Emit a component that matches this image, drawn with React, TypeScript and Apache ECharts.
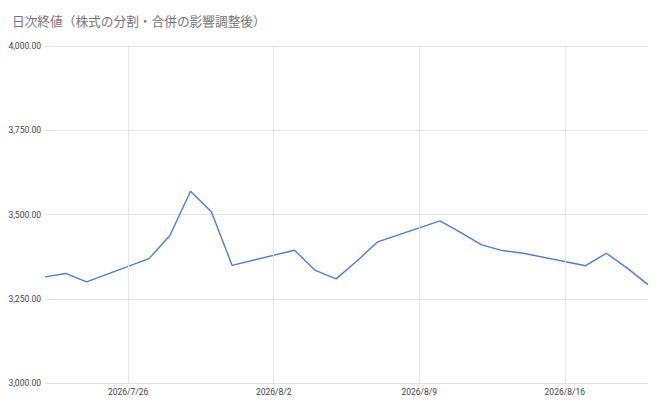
import React, { useEffect, useRef } from "react";
import * as echarts from "echarts";

const titleText = "日次終値（株式の分割・合併の影響調整後）";
const dates = [
  "2026-07-22", "2026-07-23", "2026-07-24", "2026-07-27", "2026-07-28", "2026-07-29",
  "2026-07-30", "2026-07-31", "2026-08-03", "2026-08-04", "2026-08-05", "2026-08-06",
  "2026-08-07", "2026-08-10", "2026-08-11", "2026-08-12", "2026-08-13", "2026-08-14",
  "2026-08-17", "2026-08-18", "2026-08-19", "2026-08-20",
];
const closes = [
  3315, 3325, 3300, 3369, 3437, 3569,
  3508, 3349, 3394, 3334, 3309, 3362,
  3419, 3481, 3446, 3410, 3393, 3385,
  3348, 3385, 3341, 3292,
];
const tickDates = ["2026-07-26", "2026-08-02", "2026-08-09", "2026-08-16"];
const startDate = "2026-07-22";
const endDate = "2026-08-20";
const yMin = 3000;
const yMax = 4000;
const yStep = 250;

const DAY = 86400000;
const toMs = (s: string) => {
  const [y, m, d] = s.split("-").map(Number);
  return Date.UTC(y, m - 1, d);
};
const base = toMs(startDate);
const toDay = (s: string) => Math.round((toMs(s) - base) / DAY);
const fmtDay = (v: number) => {
  const dt = new Date(base + Math.round(v) * DAY);
  return `${dt.getUTCFullYear()}/${dt.getUTCMonth() + 1}/${dt.getUTCDate()}`;
};
const fmtNum = (v: number) =>
  v.toLocaleString("en-US", { minimumFractionDigits: 2, maximumFractionDigits: 2 });

export default function App() {
  const ref = useRef<HTMLDivElement>(null);
  useEffect(() => {
    if (!ref.current) return;
    const chart = echarts.init(ref.current, undefined, { renderer: "svg" });
    const tickDays = tickDates.map(toDay);
    const font = 'Roboto, "Liberation Sans", Arial, sans-serif';
    chart.setOption({
      animation: false,
      backgroundColor: "#ffffff",
      title: {
        text: titleText,
        left: 12,
        top: 15,
        padding: 0,
        textStyle: {
          color: "#757575",
          fontSize: 12.7,
          fontWeight: "normal",
          fontFamily: 'Roboto, "Noto Sans CJK JP", sans-serif',
        },
      },
      grid: { left: 45, right: 10, top: 46, bottom: 19, containLabel: false },
      xAxis: {
        type: "value",
        min: 0,
        max: toDay(endDate),
        axisLine: { show: false },
        axisTick: { show: false, customValues: tickDays },
        splitLine: { show: false },
        axisLabel: {
          customValues: tickDays,
          formatter: (v: number) => fmtDay(v),
          color: "#444444",
          fontSize: 8.5,
          fontFamily: font,
          margin: 4,
        },
      },
      yAxis: {
        type: "value",
        min: yMin,
        max: yMax,
        interval: yStep,
        axisLine: { show: false },
        axisTick: { show: false },
        splitLine: { lineStyle: { color: "#e4e4e4", width: 1 } },
        axisLabel: {
          formatter: (v: number) => fmtNum(v),
          color: "#444444",
          fontSize: 8.5,
          fontFamily: font,
          margin: 4,
        },
      },
      series: [
        {
          type: "line",
          data: dates.map((d, i) => [toDay(d), closes[i]]),
          symbol: "none",
          lineStyle: { color: "#4a7fd9", width: 1.4 },
          markLine: {
            silent: true,
            symbol: ["none", "none"],
            label: { show: false },
            lineStyle: { color: "#e4e4e4", width: 1, type: "solid" },
            data: tickDays.map((d) => ({ xAxis: d })),
          },
          z: 3,
        },
      ],
    });
    return () => chart.dispose();
  }, []);
  return (
    <div
      ref={ref}
      style={{ position: "fixed", left: 0, top: 0, width: 658, height: 402 }}
    />
  );
}
